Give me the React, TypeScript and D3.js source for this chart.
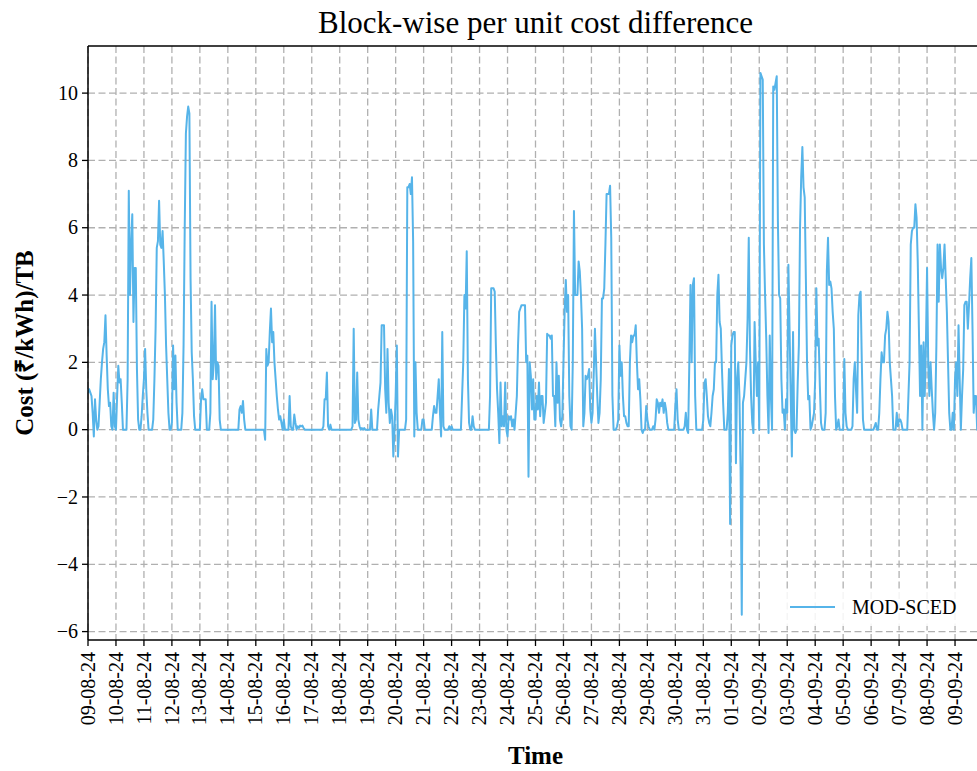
import React from 'react';
import * as d3 from 'd3';

// Tick labels (one per day)
const dayLabels: string[] = [
  '09-08-24','10-08-24','11-08-24','12-08-24','13-08-24','14-08-24','15-08-24','16-08-24',
  '17-08-24','18-08-24','19-08-24','20-08-24','21-08-24','22-08-24','23-08-24','24-08-24',
  '25-08-24','26-08-24','27-08-24','28-08-24','29-08-24','30-08-24','31-08-24','01-09-24',
  '02-09-24','03-09-24','04-09-24','05-09-24','06-09-24','07-09-24','08-09-24','09-09-24',
];

const yTicks: number[] = [-6, -4, -2, 0, 2, 4, 6, 8, 10];

// Hourly per-unit cost difference, one array per day (24 values)
const d0908 = [1.1,1.2,1.1,1.0,0.5,-0.2,0.9,0.3,0.0,0.1,0.8,1.5,2.0,2.4,2.6,3.4,2.2,1.2,0.7,0.8,0.1,0.0,1.1,0.1];
const d1008 = [0.0,1.0,1.9,1.4,1.5,0.8,0.0,0.0,0.0,0.0,1.5,7.1,4.0,5.5,6.4,3.2,4.8,4.8,1.8,0.3,0.0,0.0,0.4,1.0];
const d1108 = [1.5,2.4,1.2,0.5,0.0,0.0,0.0,0.0,0.3,1.5,3.0,5.4,5.6,6.8,5.5,5.4,5.9,5.0,4.0,2.5,1.5,0.5,0.0,0.0];
const d1208 = [0.2,2.5,1.2,2.2,0.8,0.0,0.0,0.0,0.0,0.5,2.5,6.0,8.8,9.3,9.6,9.4,4.5,2.3,1.5,0.4,0.0,0.0,0.0,0.0];
const d1308 = [0.0,0.9,1.2,0.9,0.9,0.9,0.0,0.0,0.0,0.5,3.8,1.5,2.0,3.7,1.5,2.0,1.9,0.3,0.0,0.0,0.0,0.0,0.0,0.0];
const d1408 = [0,0,0,0,0,0,0,0,0,0,0.6,0.7,0.5,0.85,0.3,0,0,0,0,0,0,0,0,0];
const d1508 = [0,0,0,0,0,0,0,0,-0.3,2.4,1.9,2.0,2.9,3.6,2.6,2.9,2.0,1.5,1.0,0.6,0.3,0.4,0.2,0];
const d1608 = [0.3,0,0,0,0,1.0,0.1,0,0,0.45,0.2,0,0.1,0.05,0.12,0.1,0.12,0.05,0,0,0,0,0,0];
const d1708 = [0,0,0,0,0,0,0,0,0,0,0.1,0.9,0.9,1.7,0.1,0,0.15,0,0,0,0,0,0,0];
const d1808 = [0,0,0,0,0,0,0,0,0,0,0,0.1,3.0,0.2,0.3,1.7,0.3,0.1,0,0.05,0,0.05,0,0];
const d1908 = [0,0,0,0.6,0,0,0,0,0,0.6,1.0,1.4,3.1,3.1,3.1,1.2,0.5,2.4,0.8,0.2,0.6,0.4,-0.8,0];
const d2008 = [1.0,2.5,-0.8,0,0,0,0,0,0,0.3,7.2,7.2,7.3,7.0,7.5,5.6,-0.2,2.0,0.5,0,0,0,0,0.3];
const d2108 = [0.3,0,0,0,0,0,0,0,0.4,0.7,0.5,0.5,1.0,1.5,0.5,-0.2,2.9,0.1,0,0,0,0,0.1,0];
const d2208 = [0.1,0,0,0,0,0,0,0,0,1.0,2.0,4.0,3.6,5.3,1.5,0.2,0,0,0.4,0.1,0,0,0,0];
const d2308 = [0,0,0,0,0,0,0,0,0,1.0,4.2,4.2,4.2,4.1,2.5,1.2,0.5,-0.4,1.4,0.1,0.4,0.1,1.4,0];
const d2408 = [-0.2,0.4,0.3,0.4,0.1,0.3,0,0.5,1.0,2.5,3.5,3.6,3.7,3.7,3.7,3.7,2.0,2.2,-1.4,2.0,1.6,0.6,1.5,0.3];
const d2508 = [0.3,1.0,0.6,1.4,0.4,1.0,1.0,0.2,0.5,0.8,2.85,2.8,2.8,2.7,2.8,1.0,1.0,0.1,2.0,0.8,1.6,0.3,0.1,0.4];
const d2608 = [2.0,3.5,4.45,3.5,4.0,1.0,0.1,0.0,2.0,6.5,4.0,4.0,4.0,5.0,4.7,4.0,3.0,0.1,0.5,1.6,1.5,1.6,1.8,0.6];
const d2708 = [0.2,0.5,1.7,3.0,2.0,1.0,0.2,0.5,1.5,3.9,3.9,4.2,5.5,7.0,7.0,7.0,7.25,5.7,1.0,0,0,0,0.1,0.3];
const d2808 = [2.5,1.6,2.0,1.0,0.4,0.4,0.2,0.1,0.1,2.0,2.8,2.6,2.8,2.8,3.1,2.0,1.2,1.5,0.9,0,-0.1,0,0,0.7];
const d2908 = [0.3,0.1,0,0,0,0.1,0,0.3,0.9,0.8,0.5,0.8,0.7,0.9,0.5,0.8,0.6,0.2,0,0,0,0,0,0];
const d3008 = [0.7,1.2,0.3,0,0,0,0,0,0.1,0.5,0,-0.1,2.0,4.3,2.0,4.3,4.5,1.0,0,0,0,0,0,0];
const d3108 = [0.3,1.4,1.5,1.0,0.4,0.2,0.1,0.5,1.0,1.2,2.0,2.0,4.0,4.6,3.2,3.0,1.8,0.8,0,0,0,0.5,1.8,-2.8];
const d0109 = [2.5,2.8,2.9,2.9,-1.0,1.5,2.0,1.0,-1.2,-5.5,0.8,1.0,1.5,2.0,3.3,5.7,2.5,1.0,0.2,-0.1,3.2,2.0,1.0,2.0];
const d0209 = [0.0,10.6,10.5,10.4,5.5,4.0,2.7,1.0,-0.1,2.8,1.0,0.0,10.2,10.1,10.3,10.5,6.2,4.0,3.9,1.5,0.5,0.6,0.0,0.9];
const d0309 = [0.5,4.9,3.0,1.0,-0.8,2.9,0.0,-0.1,0.0,1.4,2.5,6.0,7.5,8.4,7.2,6.9,4.5,2.0,0.9,1.0,0.0,0.1,0.3,0.5];
const d0409 = [1.5,4.2,2.5,2.7,1.3,0.2,0,0,0,0.5,4.7,5.7,4.3,4.4,4.2,3.5,3.0,1.0,0,0.1,0.3,0,0,0];
const d0509 = [0.0,2.1,0.5,0.1,0,0,0,0,0.1,1.5,2.0,1.2,0.5,3.4,4.0,4.1,2.0,0.3,0,0,0,0,0,0];
const d0609 = [0,0,0,0.1,0.2,0,0,0.5,1.5,2.3,2.0,2.0,2.8,3.0,3.5,3.2,2.0,1.5,1.0,0,0,0,0.5,0.1];
const d0709 = [0.3,0.3,0.2,0,0,0,0,0,1.0,2.0,5.5,5.9,6.0,6.0,6.7,6.3,5.0,3.0,1.0,2.5,0,2.6,1.0,2.5];
const d0809 = [4.8,2.0,1.0,2.0,1.2,0.5,0,0.5,2.5,5.5,3.8,5.5,4.8,4.5,4.8,5.5,4.5,3.5,2.0,0.5,0,0,0.5,0];
const d0909 = [1.5,2.0,1.0,3.1,1.5,0,1.0,1.8,3.7,3.8,3.8,3.0,3.7,4.5,5.1,3.0,0.5,1.0,1.0,0,0,0,0,0];

const dailySeries: number[][] = [
  d0908, d1008, d1108, d1208, d1308, d1408, d1508, d1608, d1708, d1808, d1908, d2008,
  d2108, d2208, d2308, d2408, d2508, d2608, d2708, d2808, d2908, d3008, d3108, d0109,
  d0209, d0309, d0409, d0509, d0609, d0709, d0809, d0909,
];

const seriesName = 'MOD-SCED';

const W = 977;
const H = 771;
const L = 88;
const R = 983;
const T = 46;
const B = 640;
const FONT = '"Liberation Serif", "Times New Roman", serif';
const LINE = '#56B4E9';
const GRID = '#b0b0b0';

export default function App() {
  const start = new Date(2024, 7, 9);
  const end = new Date(2024, 8, 10);
  const x = d3.scaleTime().domain([start, end]).range([L, R]);
  const y = d3.scaleLinear().domain([-6.25, 11.4]).range([B, T]);

  const points: { t: Date; v: number }[] = [];
  dailySeries.forEach((day, di) => {
    day.forEach((v, h) => {
      points.push({ t: d3.timeHour.offset(d3.timeDay.offset(start, di), h), v });
    });
  });

  const line = d3
    .line<{ t: Date; v: number }>()
    .x((d) => x(d.t))
    .y((d) => y(d.v));

  const dayTicks = dayLabels.map((_, i) => d3.timeDay.offset(start, i));
  const fmtY = (v: number) => (v < 0 ? '\u2212' + Math.abs(v) : String(v));

  return (
    <svg
      width={W}
      height={H}
      style={{ position: 'absolute', left: 0, top: 0, background: '#fff' }}
      fontFamily={FONT}
    >
      <defs>
        <clipPath id="plot">
          <rect x={L} y={T} width={R - L} height={B - T} />
        </clipPath>
      </defs>
      <rect x={0} y={0} width={W} height={H} fill="#fff" />
      {/* grid */}
      <g stroke={GRID} strokeWidth={1.3} strokeDasharray="7,3.5">
        {dayTicks.map((d, i) => (
          <line key={'gx' + i} x1={x(d)} x2={x(d)} y1={T} y2={B} />
        ))}
        {yTicks.map((v) => (
          <line key={'gy' + v} x1={L} x2={R} y1={y(v)} y2={y(v)} />
        ))}
      </g>
      {/* data line */}
      <g clipPath="url(#plot)">
        <path d={line(points) || ''} fill="none" stroke={LINE} strokeWidth={2} strokeLinejoin="round" />
      </g>
      {/* legend */}
      <rect x={778} y={590} width={210} height={36} fill="#fff" opacity={0.85} />
      <line x1={790} x2={835} y1={607} y2={607} stroke={LINE} strokeWidth={2} />
      <text x={852} y={614} fontSize={20} fill="#000">{seriesName}</text>
      {/* spines */}
      <g stroke="#000" strokeWidth={1.5} fill="none">
        <line x1={L} x2={L} y1={T} y2={B} />
        <line x1={L} x2={R} y1={B} y2={B} />
        <line x1={L} x2={R} y1={T} y2={T} />
        <line x1={R} x2={R} y1={T} y2={B} />
      </g>
      {/* y ticks */}
      {yTicks.map((v) => (
        <g key={'yt' + v}>
          <line x1={L - 6} x2={L} y1={y(v)} y2={y(v)} stroke="#000" strokeWidth={1.3} />
          <text x={L - 10} y={y(v)} dy="0.33em" textAnchor="end" fontSize={20} fill="#000">
            {fmtY(v)}
          </text>
        </g>
      ))}
      {/* x ticks */}
      {dayTicks.map((d, i) => (
        <g key={'xt' + i}>
          <line x1={x(d)} x2={x(d)} y1={B} y2={B + 6} stroke="#000" strokeWidth={1.3} />
          <text
            transform={`translate(${x(d)},${B + 12}) rotate(-90)`}
            textAnchor="end"
            dy="0.33em"
            fontSize={20}
            fill="#000"
          >
            {dayLabels[i]}
          </text>
        </g>
      ))}
      {/* title & labels */}
      <text x={(L + R) / 2} y={33} textAnchor="middle" fontSize={31} fill="#000">
        Block-wise per unit cost difference
      </text>
      <text x={(L + R) / 2} y={764} textAnchor="middle" fontSize={25} fontWeight="bold" fill="#000">
        Time
      </text>
      <text
        transform={`translate(33,${(T + B) / 2}) rotate(-90)`}
        textAnchor="middle"
        fontSize={25}
        fontWeight="bold"
        fill="#000"
      >
        Cost (₹/kWh)/TB
      </text>
    </svg>
  );
}
